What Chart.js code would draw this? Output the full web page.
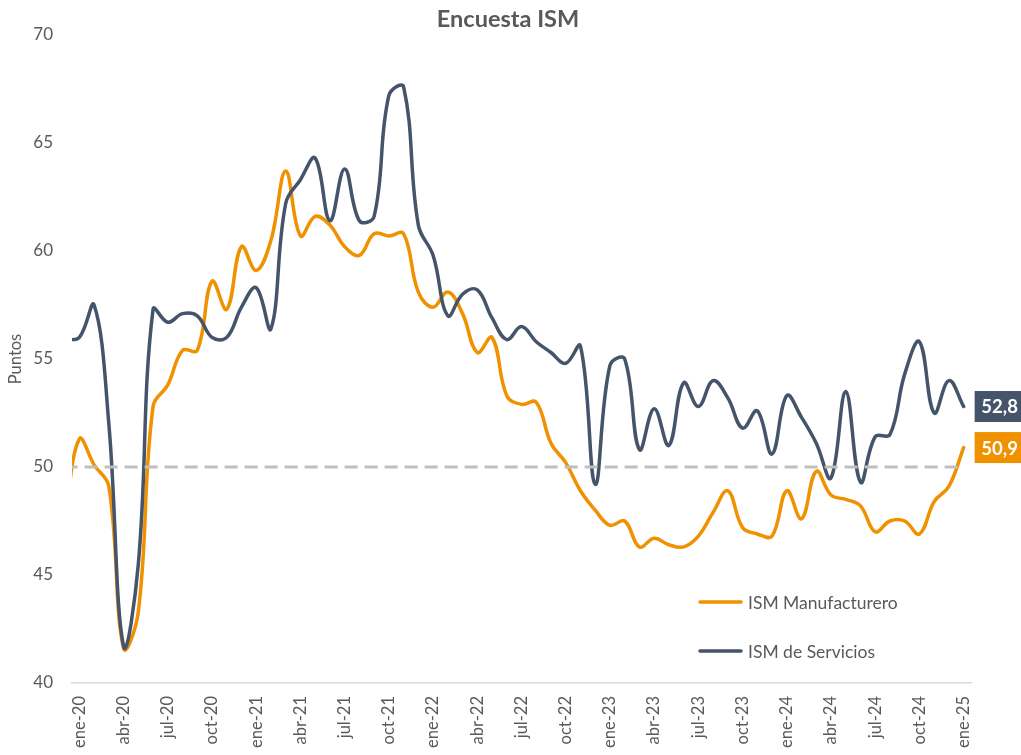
<!DOCTYPE html>
<html>
<head>
<meta charset="utf-8">
<script src="https://cdn.jsdelivr.net/npm/chart.js@4.4.1/dist/chart.umd.min.js"></script>
<style>
  html, body { margin: 0; padding: 0; background: #ffffff; }
  #wrap { width: 1021px; height: 755px; }
</style>
</head>
<body>
<div id="wrap"><canvas id="c" width="1021" height="755"></canvas></div>
<script>
// ---- DATA ----
const title = 'Encuesta ISM';
const yAxisTitle = 'Puntos';
const months = [
  'dic-19',
  'ene-20','feb-20','mar-20','abr-20','may-20','jun-20','jul-20','ago-20','sep-20','oct-20','nov-20','dic-20',
  'ene-21','feb-21','mar-21','abr-21','may-21','jun-21','jul-21','ago-21','sep-21','oct-21','nov-21','dic-21',
  'ene-22','feb-22','mar-22','abr-22','may-22','jun-22','jul-22','ago-22','sep-22','oct-22','nov-22','dic-22',
  'ene-23','feb-23','mar-23','abr-23','may-23','jun-23','jul-23','ago-23','sep-23','oct-23','nov-23','dic-23',
  'ene-24','feb-24','mar-24','abr-24','may-24','jun-24','jul-24','ago-24','sep-24','oct-24','nov-24','dic-24',
  'ene-25'
];
const manufacturero = [
  47.5,
  51.3, 50.1, 49.1, 41.6, 43.3, 52.8, 53.8, 55.4, 55.4, 58.6, 57.3, 60.2,
  59.1, 60.5, 63.7, 60.7, 61.6, 61.2, 60.2, 59.8, 60.8, 60.7, 60.8, 58.1,
  57.4, 58.1, 57.1, 55.3, 56.0, 53.3, 52.9, 53.0, 51.1, 50.2, 48.9, 48.0,
  47.3, 47.5, 46.3, 46.7, 46.4, 46.3, 46.8, 47.9, 48.9, 47.2, 46.9, 46.8,
  48.9, 47.6, 49.8, 48.7, 48.5, 48.2, 47.0, 47.5, 47.5, 46.9, 48.4, 49.1,
  50.9
];
const servicios = [
  55.9,
  56.0, 57.5, 52.0, 41.7, 45.5, 57.3, 56.7, 57.1, 57.0, 56.0, 56.0, 57.4,
  58.3, 56.4, 62.2, 63.3, 64.3, 61.4, 63.8, 61.4, 61.6, 67.2, 67.6, 61.2,
  59.8, 57.0, 58.0, 58.2, 56.9, 55.9, 56.5, 55.8, 55.3, 54.8, 55.6, 49.2,
  54.7, 55.0, 50.8, 52.7, 51.0, 53.9, 52.8, 54.0, 53.2, 51.8, 52.6, 50.6,
  53.3, 52.3, 51.1, 49.5, 53.5, 49.3, 51.4, 51.5, 54.3, 55.8, 52.5, 54.0,
  52.8
];
const threshold = 50;
const tickLabels = [
  'ene-20','abr-20','jul-20','oct-20','ene-21','abr-21','jul-21','oct-21',
  'ene-22','abr-22','jul-22','oct-22','ene-23','abr-23','jul-23','oct-23',
  'ene-24','abr-24','jul-24','oct-24','ene-25'
];
const yTicks = [40, 45, 50, 55, 60, 65, 70];
const seriesNames = ['ISM Manufacturero', 'ISM de Servicios'];

// ---- STYLE ----
const ORANGE = '#F09100';
const DARK = '#44546A';
const GREY_TXT = '#595959';
const FONT = 'Lato, "Open Sans", sans-serif';

const toPoints = arr => arr.map((v, i) => ({ x: i, y: v }));
const firstShown = months.indexOf(tickLabels[0]);
const lastShown = months.indexOf(tickLabels[tickLabels.length - 1]);

const overlayPlugin = {
  id: 'overlay',
  afterDraw(chart) {
    const ctx = chart.ctx;
    const xs = chart.scales.x, ys = chart.scales.y;
    ctx.save();
    // title
    ctx.fillStyle = GREY_TXT;
    ctx.font = 'bold 23.5px ' + FONT;
    ctx.textAlign = 'center';
    ctx.textBaseline = 'alphabetic';
    ctx.fillText(title, 508, 27);

    // legend
    const legendItems = [
      { name: seriesNames[0], color: ORANGE, y: 602 },
      { name: seriesNames[1], color: DARK, y: 651 }
    ];
    ctx.font = '17.5px ' + FONT;
    ctx.textAlign = 'left';
    ctx.textBaseline = 'middle';
    legendItems.forEach(it => {
      ctx.strokeStyle = it.color;
      ctx.lineWidth = 3.5;
      ctx.lineCap = 'round';
      ctx.beginPath();
      ctx.moveTo(700, it.y);
      ctx.lineTo(741, it.y);
      ctx.stroke();
      ctx.fillStyle = GREY_TXT;
      ctx.fillText(it.name, 748, it.y + 1);
    });

    // end labels
    const lastIdx = months.length - 1;
    const ends = [
      { v: servicios[lastIdx], color: DARK },
      { v: manufacturero[lastIdx], color: ORANGE }
    ];
    ctx.font = 'bold 18.5px ' + FONT;
    ctx.textAlign = 'center';
    ends.forEach(e => {
      const px = xs.getPixelForValue(lastIdx) + 11;
      const py = ys.getPixelForValue(e.v);
      ctx.fillStyle = e.color;
      ctx.fillRect(px, py - 15.5, 50, 31);
      ctx.fillStyle = '#ffffff';
      ctx.fillText(e.v.toFixed(1).replace('.', ','), px + 25, py + 1);
    });
    ctx.restore();
  }
};

new Chart(document.getElementById('c'), {
  type: 'line',
  data: {
    datasets: [
      {
        label: 'Umbral',
        data: [{ x: 0, y: threshold }, { x: months.length - 1, y: threshold }],
        borderColor: '#BFBFBF',
        borderWidth: 3,
        borderDash: [13, 7],
        pointRadius: 0,
        tension: 0,
        order: 0
      },
      {
        label: seriesNames[1],
        data: toPoints(servicios),
        borderColor: DARK,
        borderWidth: 3.5,
        pointRadius: 0,
        tension: 0.4,
        borderCapStyle: 'round',
        borderJoinStyle: 'round',
        order: 1
      },
      {
        label: seriesNames[0],
        data: toPoints(manufacturero),
        borderColor: ORANGE,
        borderWidth: 3.5,
        pointRadius: 0,
        tension: 0.4,
        borderCapStyle: 'round',
        borderJoinStyle: 'round',
        order: 2
      }
    ]
  },
  options: {
    responsive: false,
    animation: false,
    devicePixelRatio: 1,
    clip: { left: 0, right: 6, top: 6, bottom: 6 },
    layout: { padding: { top: 35, right: 50, left: 0, bottom: 0 } },
    plugins: {
      legend: { display: false },
      title: { display: false },
      tooltip: { enabled: false }
    },
    scales: {
      x: {
        type: 'linear',
        min: firstShown - 0.5,
        max: lastShown + 0.5,
        grid: { display: false, drawTicks: false },
        border: { display: true, color: '#D9D9D9', width: 1.5 },
        afterBuildTicks(scale) {
          scale.ticks = tickLabels.map(l => ({ value: months.indexOf(l) }));
        },
        afterFit(scale) { scale.height = 72; },
        ticks: {
          autoSkip: false,
          minRotation: 90,
          maxRotation: 90,
          padding: 13,
          color: GREY_TXT,
          font: { family: FONT, size: 16.5 },
          callback: v => months[v]
        }
      },
      y: {
        min: 40,
        max: 70,
        grid: { display: false, drawTicks: false },
        border: { display: false },
        afterBuildTicks(scale) {
          scale.ticks = yTicks.map(v => ({ value: v }));
        },
        afterFit(scale) { scale.width = 72; },
        ticks: {
          padding: 19,
          color: GREY_TXT,
          font: { family: FONT, size: 17 }
        },
        title: {
          display: true,
          text: yAxisTitle,
          color: GREY_TXT,
          font: { family: FONT, size: 16.5 },
          padding: { top: 6, bottom: 0 }
        }
      }
    }
  },
  plugins: [overlayPlugin]
});
</script>
</body>
</html>
